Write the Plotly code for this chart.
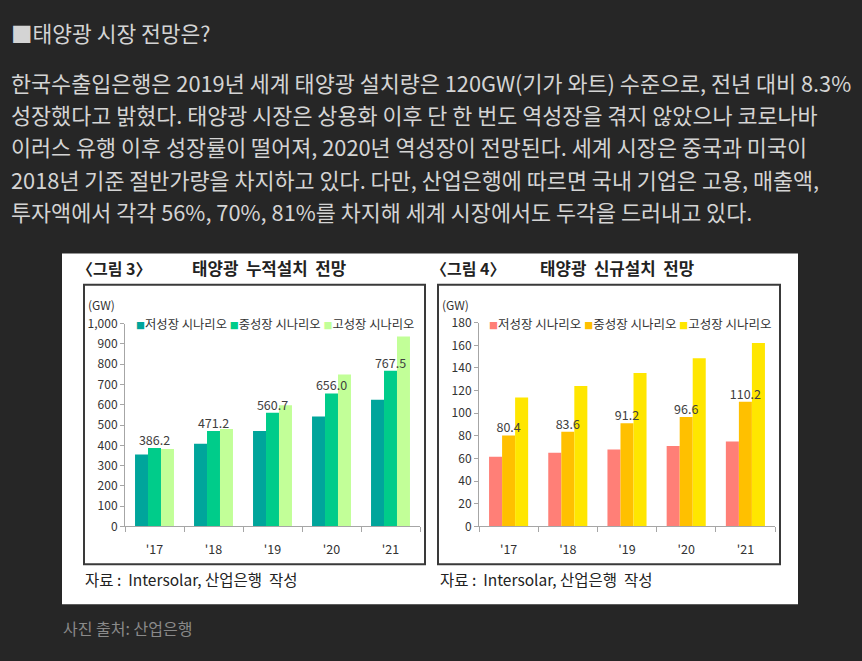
import plotly.graph_objects as go

W, H = 862, 661

years = ["'17", "'18", "'19", "'20", "'21"]
series_names = ["저성장 시나리오", "중성장 시나리오", "고성장 시나리오"]

cum_low = [355, 408, 471, 542, 625]
cum_mid = [386.2, 471.2, 560.7, 656.0, 767.5]
cum_high = [382, 481, 598, 750, 937]

new_low = [61.5, 65, 68, 71, 75]
new_mid = [80.4, 83.6, 91.2, 96.6, 110.2]
new_high = [114, 124, 135.5, 148.5, 162]

cum_colors = ["#00A59B", "#00CC8A", "#C2FF98"]
new_colors = ["#FF7F77", "#FFC000", "#FFE600"]

heading = "■태양광 시장 전망은?"
body_lines = [
    "한국수출입은행은 2019년 세계 태양광 설치량은 120GW(기가 와트) 수준으로, 전년 대비 8.3%",
    "성장했다고 밝혔다. 태양광 시장은 상용화 이후 단 한 번도 역성장을 겪지 않았으나 코로나바",
    "이러스 유행 이후 성장률이 떨어져, 2020년 역성장이 전망된다. 세계 시장은 중국과 미국이",
    "2018년 기준 절반가량을 차지하고 있다. 다만, 산업은행에 따르면 국내 기업은 고용, 매출액,",
    "투자액에서 각각 56%, 70%, 81%를 차지해 세계 시장에서도 두각을 드러내고 있다.",
]
caption = "사진 출처: 산업은행"
source_text = "자료 :  Intersolar, 산업은행  작성"

FONT = "Noto Sans CJK KR"


def px(x):
    return x / W


def py(y):
    return 1 - y / H


fig = go.Figure()

for vals, name, col in zip([cum_low, cum_mid, cum_high], series_names, cum_colors):
    fig.add_trace(go.Bar(
        x=years, y=vals, name=name, marker_color=col, marker_line_width=0,
        xaxis="x", yaxis="y", showlegend=False, hoverinfo="skip"))

for vals, name, col in zip([new_low, new_mid, new_high], series_names, new_colors):
    fig.add_trace(go.Bar(
        x=years, y=vals, name=name, marker_color=col, marker_line_width=0,
        xaxis="x2", yaxis="y2", showlegend=False, hoverinfo="skip"))

# value labels for the middle scenario, drawn on top of all bars
for vals, xa, ya in [(cum_mid, "x", "y"), (new_mid, "x2", "y2")]:
    fig.add_trace(go.Scatter(
        x=years, y=vals, mode="text", text=[f"{v:.1f}" for v in vals],
        textposition="top center", marker=dict(size=10),
        textfont=dict(size=12.5, color="#404040", family=FONT),
        cliponaxis=False, xaxis=xa, yaxis=ya, showlegend=False, hoverinfo="skip"))

axis_common = dict(showline=True, linecolor="#A6A6A6", linewidth=1, ticks="outside",
                   tickcolor="#A6A6A6", showgrid=False, zeroline=False)
tf_x = dict(size=12.5, color="#333333", family=FONT)
tf_y = dict(size=12, color="#333333", family=FONT)

fig.update_layout(
    width=W, height=H, margin=dict(l=0, r=0, t=0, b=0),
    paper_bgcolor="#262626", plot_bgcolor="rgba(0,0,0,0)",
    barmode="group", bargap=0.34, bargroupgap=0,
    font=dict(family=FONT),
    xaxis=dict(domain=[px(125), px(420)], anchor="y", type="category", tickfont=tf_x,
               tickson="boundaries", ticklen=5, ticklabelstandoff=12, **axis_common),
    yaxis=dict(domain=[py(530), py(322)], anchor="x", range=[0, 1000], dtick=100, tickfont=tf_y,
               tickformat=",", ticklen=4, **axis_common),
    xaxis2=dict(domain=[px(479), px(775)], anchor="y2", type="category", tickfont=tf_x,
                tickson="boundaries", ticklen=5, ticklabelstandoff=12, **axis_common),
    yaxis2=dict(domain=[py(530), py(321)], anchor="x2", range=[0, 180], dtick=20, tickfont=tf_y,
                ticklen=4, **axis_common),
)

shapes = [
    dict(type="rect", xref="paper", yref="paper", x0=px(62), x1=px(798), y0=py(610), y1=py(250),
         fillcolor="white", line_width=0, layer="below"),
    dict(type="rect", xref="paper", yref="paper", x0=px(84), x1=px(425), y0=py(569), y1=py(282),
         line=dict(color="#3A3A3A", width=2), layer="below"),
    dict(type="rect", xref="paper", yref="paper", x0=px(438), x1=px(780), y0=py(569), y1=py(282),
         line=dict(color="#3A3A3A", width=2), layer="below"),
]
fig.update_layout(shapes=shapes)

ann = []


def add_text(x, y, text, size, color, bold=False, xanchor="left"):
    t = f"<b>{text}</b>" if bold else text
    ann.append(dict(x=px(x), y=py(y), xref="paper", yref="paper", text=t, showarrow=False,
                    xanchor=xanchor, yanchor="middle", borderpad=0,
                    font=dict(size=size, color=color, family=FONT)))


add_text(10, 23, heading, 21.5, "#D4D4D4")
line_y = [74, 107, 140, 174, 207]
for ly, line in zip(line_y, body_lines):
    add_text(10, ly, line, 21.8, "#D4D4D4")
add_text(62, 634, caption, 16, "#8A8A8A")

# chart titles
add_text(76, 265, "〈그림 3〉", 16, "#222222", bold=True)
add_text(191, 265, "태양광  누적설치  전망", 16.8, "#222222", bold=True)
add_text(430, 265, "〈그림 4〉", 16, "#222222", bold=True)
add_text(539, 265, "태양광  신규설치  전망", 16.8, "#222222", bold=True)

add_text(87, 302, "(GW)", 12, "#333333")
add_text(441, 302, "(GW)", 12, "#333333")


def legend_text(colors):
    parts = []
    for c, n in zip(colors, series_names):
        parts.append(f"<span style='color:{c};font-size:9px'>■</span>{n}")
    return " ".join(parts)


add_text(135, 322, legend_text(cum_colors), 12.3, "#333333")
add_text(488, 322, legend_text(new_colors), 12.5, "#333333")

add_text(84, 584, source_text, 15.5, "#222222")
add_text(439, 584, source_text, 15.5, "#222222")

fig.update_layout(annotations=ann)

fig.write_html(
    "out.html",
    config={"displayModeBar": False},
    post_script=(
        "var s=document.createElement('style');"
        "s.textContent='html,body{margin:0;padding:0;overflow:hidden;height:661px;background:#262626}';"
        "document.head.appendChild(s);"
    ),
)
